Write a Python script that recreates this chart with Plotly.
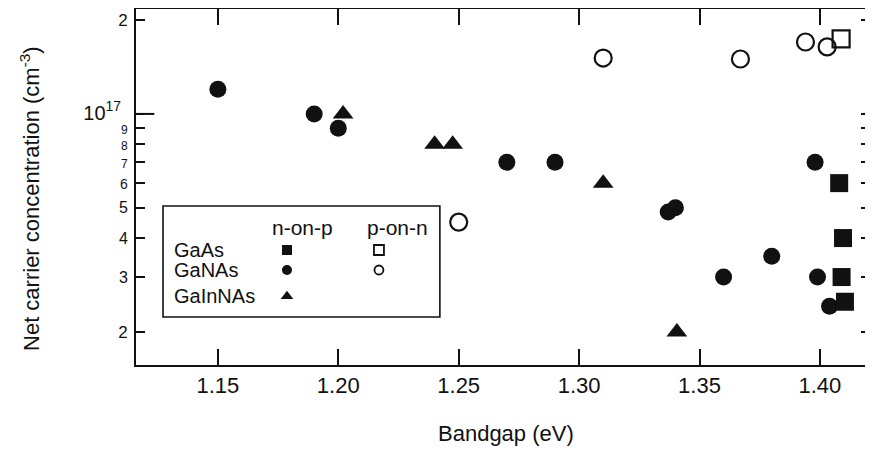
import plotly.graph_objects as go

# ---- data ----
gaas_n_x = [1.408, 1.4096, 1.409, 1.4104]
gaas_n_y = [6.0e16, 4.0e16, 3.0e16, 2.5e16]

gaas_p_x = [1.4088]
gaas_p_y = [1.74e17]

ganas_n_x = [1.150, 1.190, 1.200, 1.270, 1.290, 1.337, 1.340, 1.360, 1.380, 1.398, 1.399, 1.404]
ganas_n_y = [1.2e17, 1.0e17, 9.0e16, 7.0e16, 7.0e16, 4.85e16, 5.0e16, 3.0e16, 3.5e16, 7.0e16, 3.0e16, 2.42e16]

ganas_p_x = [1.250, 1.310, 1.367, 1.394, 1.403]
ganas_p_y = [4.5e16, 1.51e17, 1.50e17, 1.70e17, 1.64e17]

gainnas_n_x = [1.202, 1.240, 1.2475, 1.310, 1.3406]
gainnas_n_y = [1.0e17, 8.0e16, 8.0e16, 6.0e16, 2.0e16]

x_tickvals = [1.15, 1.20, 1.25, 1.30, 1.35, 1.40]
x_ticktext = ["1.15", "1.20", "1.25", "1.30", "1.35", "1.40"]

y_tickvals = [2e16, 3e16, 4e16, 5e16, 6e16, 7e16, 8e16, 9e16, 1e17, 2e17]
y_ticktext = [
    '<span style="font-size:17px">2</span>',
    '<span style="font-size:16px">3</span>',
    '<span style="font-size:16px">4</span>',
    '<span style="font-size:16px">5</span>',
    '<span style="font-size:14px">6</span>',
    '<span style="font-size:12px">7</span>',
    '<span style="font-size:12px">8</span>',
    '<span style="font-size:12px">9</span>',
    '<span style="font-size:20px">10<sup>17</sup></span><span style="font-size:12px">\u00a0\u00a0</span>',
    '<span style="font-size:17px">2</span>',
]

legend_rows = ["GaAs", "GaNAs", "GaInNAs"]
legend_cols = ["n-on-p", "p-on-n"]

FONT = "Liberation Sans, Arial, sans-serif"
INK = "#111111"

fig = go.Figure()

circle_open = dict(symbol="circle-open", size=17, color=INK, line=dict(width=2.2, color=INK))
circle_fill = dict(symbol="circle", size=17, color=INK, line=dict(width=0))
square_fill = dict(symbol="square", size=18, color=INK, line=dict(width=0))
square_open = dict(symbol="square-open", size=17, color=INK, line=dict(width=2.2, color=INK))
tri_fill = dict(symbol="triangle-up", size=18, color=INK, line=dict(width=0))

fig.add_trace(go.Scatter(x=ganas_p_x, y=ganas_p_y, mode="markers", marker=circle_open, name="GaNAs p-on-n"))
fig.add_trace(go.Scatter(x=ganas_n_x, y=ganas_n_y, mode="markers", marker=circle_fill, name="GaNAs n-on-p"))
fig.add_trace(go.Scatter(x=gainnas_n_x, y=gainnas_n_y, mode="markers", marker=tri_fill, name="GaInNAs n-on-p"))
fig.add_trace(go.Scatter(x=gaas_n_x, y=gaas_n_y, mode="markers", marker=square_fill, name="GaAs n-on-p"))
fig.add_trace(go.Scatter(x=gaas_p_x, y=gaas_p_y, mode="markers", marker=square_open, name="GaAs p-on-n"))

# ---- hand-made legend (table of symbols) on an overlay axis pair ----
col_x = [0.2057, 0.3310]
row_y = [0.3230, 0.2669, 0.1930]
leg_small = [
    (0, 0, dict(symbol="square", size=10, color=INK, line=dict(width=0))),
    (0, 1, dict(symbol="circle", size=10, color=INK, line=dict(width=0))),
    (0, 2, dict(symbol="triangle-up", size=11, color=INK, line=dict(width=0))),
    (1, 0, dict(symbol="square-open", size=10, color=INK, line=dict(width=1.8, color=INK))),
    (1, 1, dict(symbol="circle-open", size=9, color=INK, line=dict(width=1.8, color=INK))),
]
for c, r, mk in leg_small:
    fig.add_trace(go.Scatter(x=[col_x[c]], y=[row_y[r]], xaxis="x2", yaxis="y2",
                             mode="markers", marker=mk, showlegend=False, hoverinfo="skip"))

fig.add_shape(type="rect", xref="x domain", yref="y domain", x0=0.0368, x1=0.414, y0=0.1348, y1=0.4466,
              line=dict(color=INK, width=1.6), fillcolor="white", layer="below")

for i, name in enumerate(legend_rows):
    fig.add_annotation(text=name, xref="x domain", yref="y domain", x=0.049, y=row_y[i],
                       xanchor="left", yanchor="middle", showarrow=False,
                       font=dict(family=FONT, size=20, color=INK))
for j, name in enumerate(legend_cols):
    fig.add_annotation(text=name, xref="x domain", yref="y domain", x=[0.2275, 0.3556][j], y=0.3876,
                       xanchor="center", yanchor="middle", showarrow=False,
                       font=dict(family=FONT, size=21, color=INK))

# long tick at 10^17 on the left axis
fig.add_shape(type="line", xref="x domain", yref="y", x0=0, x1=0.025, y0=1e17, y1=1e17,
              line=dict(color=INK, width=2))
fig.add_shape(type="line", xref="x domain", yref="y", x0=0.99, x1=1, y0=1e17, y1=1e17,
              line=dict(color=INK, width=2))

# axis titles
fig.add_annotation(text="Net carrier concentration (cm<sup>-3</sup>)", xref="paper", yref="paper",
                   x=0, xshift=-106, y=0.4663, textangle=-90, xanchor="center", yanchor="middle",
                   showarrow=False, font=dict(family=FONT, size=22, color=INK))
fig.add_annotation(text="Bandgap (eV)", xref="paper", yref="paper",
                   x=0.5, xshift=3, y=0, yshift=-68, xanchor="center", yanchor="middle",
                   showarrow=False, font=dict(family=FONT, size=22, color=INK))

# The page body has an 8px default margin, so the figure is 8px smaller than the window.
fig.update_layout(
    width=865, height=442,
    margin=dict(l=128, r=3, t=1, b=85),
    paper_bgcolor="white", plot_bgcolor="white",
    showlegend=False,
    font=dict(family=FONT, color=INK),
    xaxis=dict(range=[1.116, 1.4208], tickmode="array", tickvals=x_tickvals, ticktext=x_ticktext,
               ticks="inside", ticklen=16, tickwidth=2, tickcolor=INK,
               showline=True, linewidth=2, linecolor=INK, mirror="ticks",
               showgrid=False, zeroline=False, tickfont=dict(family=FONT, size=22, color=INK),
               automargin=False),
    yaxis=dict(type="log", range=[16.1952, 17.3363], tickmode="array", tickvals=y_tickvals,
               ticktext=y_ticktext, ticks="inside", ticklen=9, tickwidth=2, tickcolor=INK,
               showline=True, linewidth=2, linecolor=INK, mirror="ticks",
               showgrid=False, zeroline=False, tickfont=dict(family=FONT, size=16, color=INK),
               ticklabelstandoff=3, automargin=False),
    xaxis2=dict(range=[0, 1], overlaying="x", anchor="y2", visible=False),
    yaxis2=dict(range=[0, 1], overlaying="y", anchor="x2", visible=False),
)

fig.write_html("out.html")
